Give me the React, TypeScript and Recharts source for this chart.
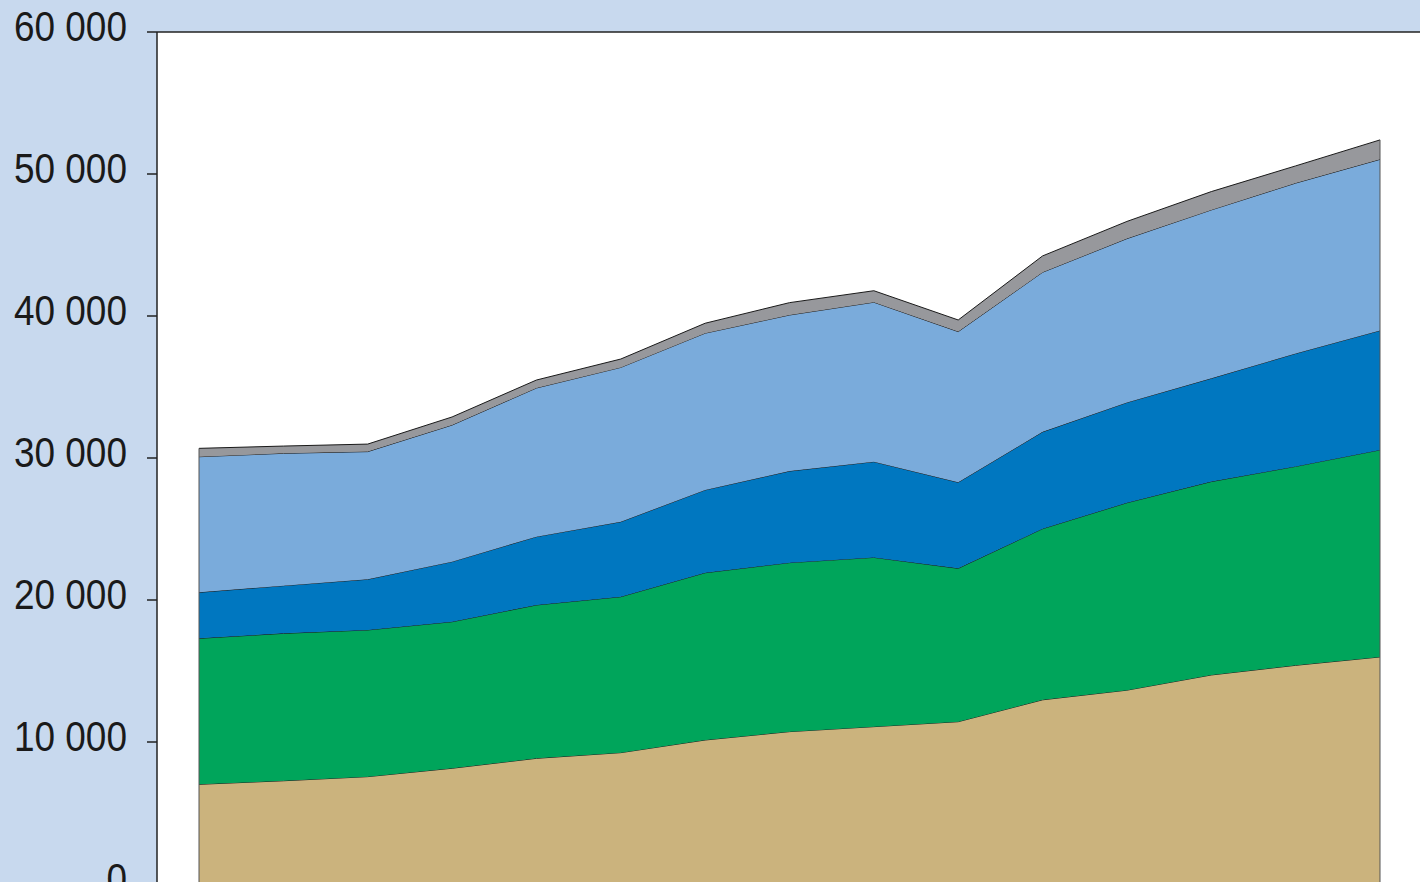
import React from 'react';
import {
  AreaChart,
  Area,
  XAxis,
  YAxis,
  CartesianGrid,
  ReferenceLine
} from 'recharts';

// categories (x axis is cropped off in the reference)
const years = ['2000', '2001', '2002', '2003', '2004', '2005', '2006', '2007', '2008', '2009', '2010', '2011', '2012', '2013', '2014'];

// stacked layers, bottom to top
const tanSeries = [7020, 7270, 7560, 8150, 8850, 9250, 10140, 10730, 11080, 11430, 12970, 13650, 14720, 15400, 15990];
const greenSeries = [10280, 10380, 10330, 10320, 10800, 10980, 11780, 11900, 11920, 10800, 12050, 13200, 13620, 14010, 14580];
const darkBlueSeries = [3240, 3360, 3570, 4230, 4810, 5280, 5830, 6450, 6740, 6060, 6820, 7060, 7270, 7950, 8410];
const lightBlueSeries = [9550, 9320, 8990, 9620, 10470, 10870, 11040, 10990, 11230, 10610, 11240, 11540, 11860, 12000, 12050];
const graySeries = [590, 510, 530, 570, 560, 590, 700, 870, 810, 820, 1150, 1210, 1290, 1210, 1370];

const yTicks = [0, 10000, 20000, 30000, 40000, 50000, 60000];

const data = years.map((year, i) => ({
  year,
  tan: tanSeries[i],
  green: greenSeries[i],
  darkBlue: darkBlueSeries[i],
  lightBlue: lightBlueSeries[i],
  gray: graySeries[i],
  total: tanSeries[i] + greenSeries[i] + darkBlueSeries[i] + lightBlueSeries[i] + graySeries[i]
}));

const formatThousands = (v: number) => String(v).replace(/\B(?=(\d{3})+(?!\d))/g, ' ');

// narrow-looking labels: Liberation Sans squeezed horizontally
const YTick = (props: any) => {
  const { x, y, payload } = props;
  return (
    <g transform={`translate(${x},${y}) scale(0.86,1)`}>
      <text
        x={0}
        y={0}
        dy={8.5}
        textAnchor="end"
        fill="#1a1a1a"
        fontSize={43}
        fontFamily="'Liberation Sans', Arial, sans-serif"
      >
        {formatThousands(payload.value)}
      </text>
    </g>
  );
};

const first = data[0];
const last = data[data.length - 1];

export default function App() {
  return (
    <div
      style={{
        position: 'fixed',
        left: 0,
        top: 0,
        width: 1420,
        height: 882,
        overflow: 'hidden',
        background: '#c8d9ee'
      }}
    >
      <AreaChart
        width={1430}
        height={900}
        data={data}
        margin={{ top: 32, right: 8, left: 0, bottom: 16 }}
      >
        <CartesianGrid fill="#ffffff" stroke="none" horizontal={false} vertical={false} />
        <XAxis dataKey="year" hide padding={{ left: 42, right: 42 }} />
        <YAxis
          width={157}
          domain={[0, 60000]}
          ticks={yTicks}
          interval={0}
          tickSize={10}
          tickMargin={20}
          axisLine={{ stroke: '#222', strokeWidth: 1.5 }}
          tickLine={{ stroke: '#222', strokeWidth: 1.5 }}
          tick={<YTick />}
        />
        <ReferenceLine y={60000} stroke="#222" strokeWidth={1.5} />

        <Area type="linear" dataKey="tan" stackId="a" fill="#cbb37d" fillOpacity={1} stroke="#1a1a1a" strokeWidth={1} isAnimationActive={false} />
        <Area type="linear" dataKey="green" stackId="a" fill="#00a55b" fillOpacity={1} stroke="#1a1a1a" strokeWidth={1} isAnimationActive={false} />
        <Area type="linear" dataKey="darkBlue" stackId="a" fill="#0077c0" fillOpacity={1} stroke="#1a1a1a" strokeWidth={1} isAnimationActive={false} />
        <Area type="linear" dataKey="lightBlue" stackId="a" fill="#7aabdb" fillOpacity={1} stroke="#1a1a1a" strokeWidth={1} isAnimationActive={false} />
        <Area type="linear" dataKey="gray" stackId="a" fill="#97989c" fillOpacity={1} stroke="#1a1a1a" strokeWidth={1} isAnimationActive={false} />

        {/* side edges of the stacked block */}
        <ReferenceLine segment={[{ x: first.year, y: 0 }, { x: first.year, y: first.total }]} stroke="#555" strokeWidth={1} />
        <ReferenceLine segment={[{ x: last.year, y: 0 }, { x: last.year, y: last.total }]} stroke="#555" strokeWidth={1} />
      </AreaChart>
    </div>
  );
}
